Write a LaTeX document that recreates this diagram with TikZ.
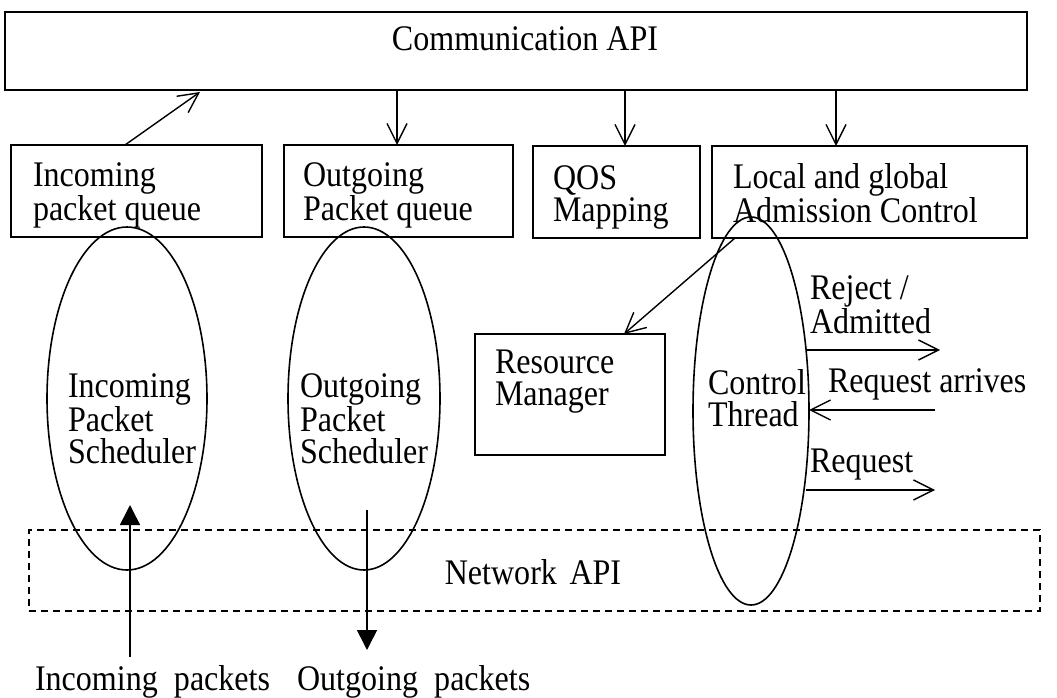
\documentclass[tikz,border=0pt]{standalone}
\usepackage{fontspec}
\setmainfont{Liberation Serif}[FakeStretch=0.89]
\usetikzlibrary{arrows.meta,shapes.geometric}

\begin{document}
\begin{tikzpicture}[x=1pt,y=-1pt,
    every node/.style={inner sep=0pt, outer sep=0pt},
    txt/.style={font=\fontsize{36}{32}\selectfont, align=left, anchor=base west},
    boxed/.style={draw, line width=1.6pt},
    oval/.style={draw, ellipse, line width=1.6pt},
    openarrow/.style={line width=1.4pt, -{Straight Barb[length=20pt,width=20pt,line width=1.4pt]}},
    solidarrow/.style={line width=1.6pt, -{Triangle[length=20pt,width=20pt]}}]
  \useasboundingbox (0,0) rectangle (1057,698);

  % Communication API bar
  \node[boxed, minimum width=1022pt, minimum height=78pt] (api) at (516,51) {};
  \node[txt, anchor=base] (apit) at (525,51) {Communication API};

  % queue / mapping / admission boxes (text anchored at the last baseline)
  \node[boxed, minimum width=251pt, minimum height=92pt] (inq) at (136.5,191) {};
  \node[txt] (inqt) at (33,220) {Incoming\\packet queue};
  \node[boxed, minimum width=229pt, minimum height=92pt] (outq) at (398.5,191) {};
  \node[txt] (outqt) at (303,220) {Outgoing\\Packet queue};
  \node[boxed, minimum width=167pt, minimum height=92pt] (qos) at (616.5,192) {};
  \node[txt] (qost) at (553,221) {QOS\\Mapping};
  \node[boxed, minimum width=315pt, minimum height=92pt] (acl) at (869.5,192) {};
  \node[txt] (aclt) at (733,222) {Local and global\\Admission Control};

  % resource manager
  \node[boxed, minimum width=190pt, minimum height=121pt] (rm) at (570,394.5) {};
  \node[txt] (rmt) at (495,405) {Resource\\Manager};

  % network API (dashed)
  \node[draw, dashed, dash pattern=on 7pt off 5pt, line width=1.4pt,
        minimum width=1011pt, minimum height=81pt] (net) at (534.5,570.5) {};
  \node[txt, anchor=base] (nett) at (533,584) {Network\hspace{0.35em}API};

  % schedulers and control thread
  \node[oval, minimum width=160pt, minimum height=343pt] (ins) at (127,398.5) {};
  \node[txt] (inst) at (68,463) {Incoming\\Packet\\Scheduler};
  \node[oval, minimum width=152pt, minimum height=343pt] (outs) at (364,398.5) {};
  \node[txt] (outst) at (300,463) {Outgoing\\Packet\\Scheduler};
  \node[oval, minimum width=116pt, minimum height=388pt] (ctl) at (751,411) {};
  \node[txt] (ctlt) at (708,426) {Control\\Thread};

  % arrows between the API bar and the boxes
  \draw[openarrow] (inq.north -| 125,0) -- (200,92) coordinate (apia);
  \draw[openarrow] (api.south -| 397,0) -- (outq.north -| 397,0);
  \draw[openarrow] (api.south -| 625,0) -- (qos.north -| 625,0);
  \draw[openarrow] (api.south -| 836,0) -- (acl.north -| 836,0);
  \draw[openarrow] (acl.south -| 735,0) -- (rm.north -| 624,0);

  % control thread messages
  \node[txt] (rej) at (810,333) {Reject /\\Admitted};
  \node[txt] (rqa) at (828,392) {Request arrives};
  \node[txt] (rq) at (810,472) {Request};
  \coordinate (e1) at (807,350);
  \coordinate (f1) at (940,350);
  \coordinate (e2) at (809,410);
  \coordinate (f2) at (935,410);
  \coordinate (e3) at (806,490);
  \coordinate (f3) at (935,490);
  \draw[openarrow] (e1) -- (f1);
  \draw[openarrow] (f2) -- (e2);
  \draw[openarrow] (e3) -- (f3);

  % packet flow through the network API
  \coordinate (pin) at (130,657);
  \draw[solidarrow] (pin) -- (130,505) coordinate (pint);
  \coordinate (pout) at (367,510);
  \draw[solidarrow] (pout) -- (367,650) coordinate (poutt);
  \node[txt] (inl) at (35,690) {Incoming\hspace{0.45em}packets};
  \node[txt] (outl) at (297,690) {Outgoing\hspace{0.45em}packets};
\end{tikzpicture}
\end{document}
